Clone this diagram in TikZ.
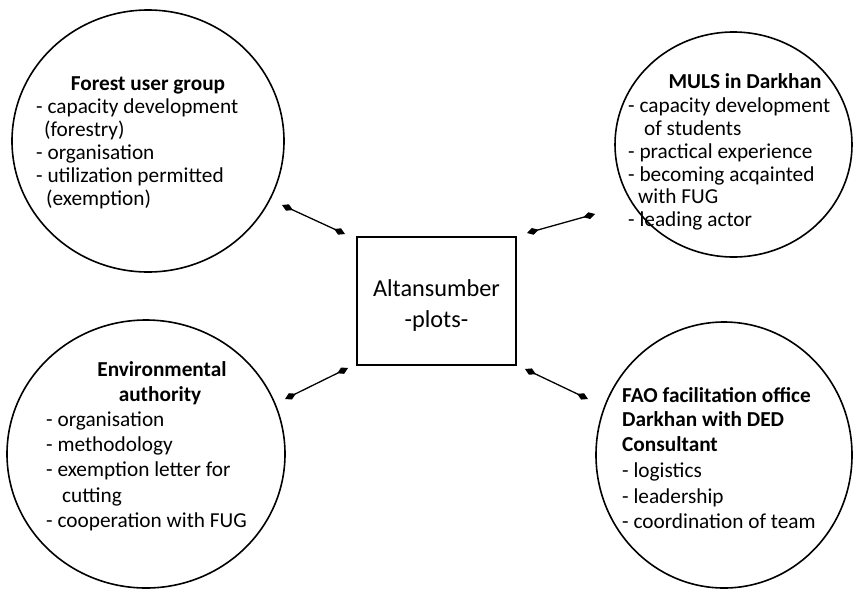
\documentclass[tikz,border=0pt]{standalone}
\usepackage{fontspec}
\setmainfont{Carlito}
\usetikzlibrary{shapes.geometric,arrows.meta}

\begin{document}
\begin{tikzpicture}[x=1pt,y=-1pt,
  actor/.style={draw, line width=1.6pt, ellipse, inner sep=0pt},
  hub/.style={draw, line width=1.8pt, minimum width=159pt, minimum height=128pt, inner sep=0pt},
  link/.style={line width=1.3pt, {Diamond[length=12pt,width=7pt]}-{Diamond[length=12pt,width=7pt]}},
  item/.style={anchor=base west, inner sep=0pt, font=\fontsize{21.3}{25}\selectfont},
  head/.style={anchor=base, inner sep=0pt, font=\fontsize{21.3}{25}\selectfont\bfseries},
  hubtext/.style={anchor=base, inner sep=0pt, font=\fontsize{24.3}{30}\selectfont},
]
\useasboundingbox (0,0) rectangle (853,590);

% central box
\node[hub] (hub) at (436.5,301) {};
\node[hubtext] (hub1) at (436.5,296) {Altansumber};
\node[hubtext] (hub2) at (436.5,327) {-plots-};

% the four partners
\node[actor, minimum width=272pt, minimum height=262pt] (tl) at (148,141) {};
\node[actor, minimum width=237pt, minimum height=225pt] (tr) at (733.5,144.5) {};
\node[actor, minimum width=278pt, minimum height=268pt] (bl) at (146,454) {};
\node[actor, minimum width=256pt, minimum height=266pt] (br) at (724,455) {};

% Forest user group
\node[head] (tlh) at (148,90) {Forest user group};
\node[item] (tl1) at (36,113) {- capacity development};
\node[item] (tl2) at (44,136) {(forestry)};
\node[item] (tl3) at (36,159) {- organisation};
\node[item] (tl4) at (36,182) {- utilization permitted};
\node[item] (tl5) at (46,205) {(exemption)};

% MULS in Darkhan
\node[head] (trh) at (745,88) {MULS in Darkhan};
\node[item] (tr1) at (628,112) {- capacity development};
\node[item] (tr2) at (644,135) {of students};
\node[item] (tr3) at (628,158) {- practical experience};
\node[item] (tr4) at (628,181) {- becoming acqainted};
\node[item] (tr5) at (638,203) {with FUG};
\node[item] (tr6) at (628,226) {- leading actor};

% Environmental authority
\node[head] (blh1) at (162,376) {Environmental};
\node[head] (blh2) at (160,401) {authority};
\node[item] (bl1) at (46,426) {- organisation};
\node[item] (bl2) at (46,451) {- methodology};
\node[item] (bl3) at (46,476) {- exemption letter for};
\node[item] (bl4) at (62,502) {cutting};
\node[item] (bl5) at (46,527) {- cooperation with FUG};

% FAO facilitation office
\node[head, anchor=base west] (brh1) at (622,402) {FAO facilitation office};
\node[head, anchor=base west] (brh2) at (622,426) {Darkhan with DED};
\node[head, anchor=base west] (brh3) at (622,451) {Consultant};
\node[item] (br1) at (622,477) {- logistics};
\node[item] (br2) at (622,503) {- leadership};
\node[item] (br3) at (622,528) {- coordination of team};

% connector end points
\coordinate (tlA) at (282,205);
\coordinate (tlB) at (345,234);
\coordinate (trA) at (527,233);
\coordinate (trB) at (595,214);
\coordinate (blA) at (348,368);
\coordinate (blB) at (285,399);
\coordinate (brA) at (525,369);
\coordinate (brB) at (588,399);

\draw[link] (tlA) -- (tlB);
\draw[link] (trA) -- (trB);
\draw[link] (blA) -- (blB);
\draw[link] (brA) -- (brB);
\end{tikzpicture}
\end{document}
